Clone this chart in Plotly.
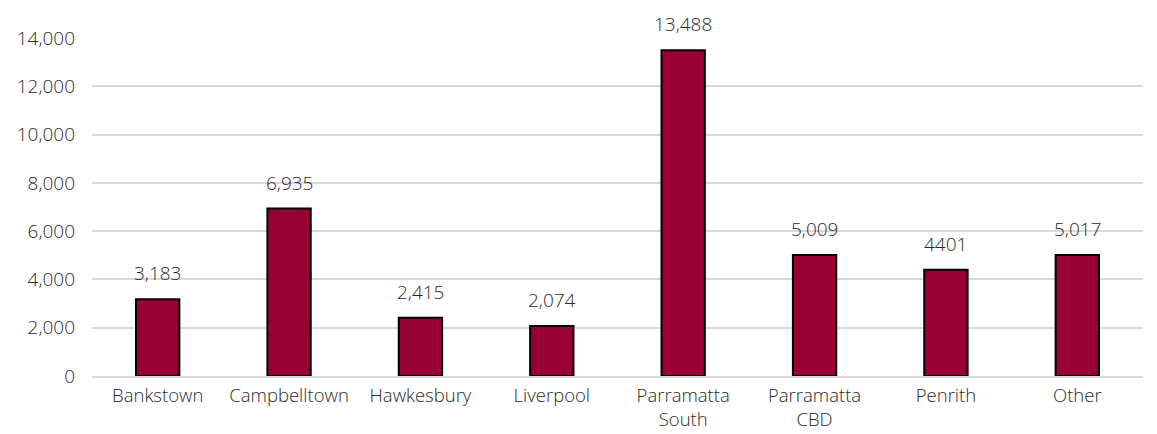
import plotly.graph_objects as go

categories = ["Bankstown", "Campbelltown", "Hawkesbury", "Liverpool",
              "Parramatta<br>South", "Parramatta<br>CBD", "Penrith", "Other"]
values = [3183, 6935, 2415, 2074, 13488, 5009, 4401, 5017]
labels = ["3,183", "6,935", "2,415", "2,074", "13,488", "5,009", "4401", "5,017"]
y_ticks = [0, 2000, 4000, 6000, 8000, 10000, 12000, 14000]
y_ticktext = ["0", "2,000", "4,000", "6,000", "8,000", "10,000", "12,000", "14,000"]

FONT = "Open Sans, Lato, sans-serif"
TXT = "#2b2b2b"

fig = go.Figure(go.Bar(
    x=categories, y=values,
    marker=dict(color="#990033", line=dict(color="#000000", width=2)),
))
for c, v, t in zip(categories, values, labels):
    fig.add_annotation(x=c, y=v, text=t, showarrow=False, yanchor="bottom",
                       yshift=11, font=dict(family=FONT, size=19, color=TXT, weight=300))
fig.update_layout(
    width=1157, height=434,
    margin=dict(l=92, r=14, t=38, b=58, autoexpand=False),
    paper_bgcolor="white", plot_bgcolor="white",
    font=dict(family=FONT, size=19, color=TXT, weight=300),
    bargap=0.67, showlegend=False,
    xaxis=dict(showline=True, linecolor="#d9d9d9", linewidth=2, ticks="",
               automargin=False, ticklabelstandoff=2,
               tickfont=dict(family=FONT, size=18.5, color=TXT, weight=300)),
    yaxis=dict(range=[0, 14000], tickvals=y_ticks, ticktext=y_ticktext,
               showgrid=True, gridcolor="#d9d9d9", gridwidth=2,
               zeroline=False, ticks="", ticklabelstandoff=16, automargin=False,
               tickfont=dict(family=FONT, size=19, color=TXT, weight=300)),
)
fig.write_html("out.html")
